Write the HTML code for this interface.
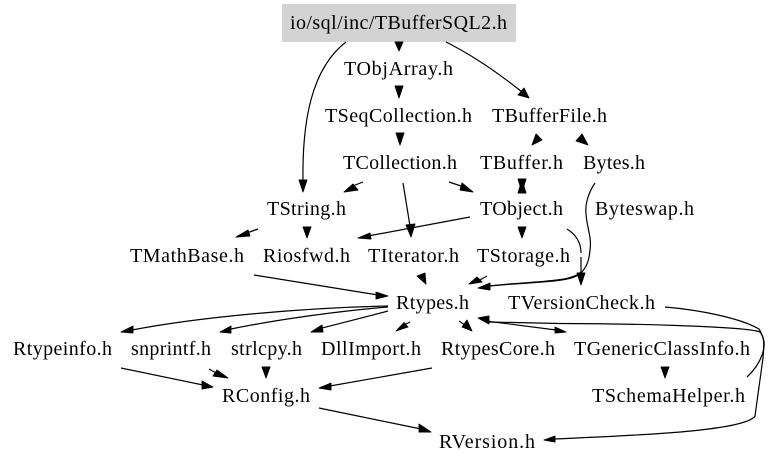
<!DOCTYPE html>
<html><head><meta charset="utf-8"><style>
html,body{margin:0;padding:0;background:#fff}
svg{display:block}
text{font-family:"Liberation Serif",serif;font-size:20px;fill:#000}
path{fill:none;stroke:#000;stroke-width:1.2}
polygon{fill:#000;stroke:#000;stroke-width:.9;stroke-linejoin:round}
</style></head><body>
<svg width="768" height="467" viewBox="0 0 768 467" xmlns="http://www.w3.org/2000/svg">
<rect width="768" height="467" fill="#fff"/>
<rect x="282" y="4" width="234" height="38" fill="#d3d3d3"/>
<text x="290" y="29" textLength="217">io/sql/inc/TBufferSQL2.h</text>
<text x="344" y="75" textLength="109">TObjArray.h</text>
<text x="325" y="122" textLength="147">TSeqCollection.h</text>
<text x="492" y="122" textLength="115">TBufferFile.h</text>
<text x="343" y="169" textLength="114">TCollection.h</text>
<text x="480" y="169" textLength="83">TBuffer.h</text>
<text x="583" y="169" textLength="62">Bytes.h</text>
<text x="267" y="215" textLength="79">TString.h</text>
<text x="480" y="215" textLength="83">TObject.h</text>
<text x="595" y="215" textLength="99">Byteswap.h</text>
<text x="130" y="262" textLength="114">TMathBase.h</text>
<text x="263" y="262" textLength="87">Riosfwd.h</text>
<text x="368" y="262" textLength="91">TIterator.h</text>
<text x="477" y="262" textLength="93">TStorage.h</text>
<text x="396" y="309" textLength="73">Rtypes.h</text>
<text x="508" y="309" textLength="147">TVersionCheck.h</text>
<text x="13" y="355" textLength="99">Rtypeinfo.h</text>
<text x="131" y="355" textLength="80">snprintf.h</text>
<text x="231" y="355" textLength="71">strlcpy.h</text>
<text x="321" y="355" textLength="100">DllImport.h</text>
<text x="441" y="355" textLength="114">RtypesCore.h</text>
<text x="574" y="355" textLength="176">TGenericClassInfo.h</text>
<text x="222" y="402" textLength="88">RConfig.h</text>
<text x="592" y="402" textLength="153">TSchemaHelper.h</text>
<text x="439" y="448" textLength="96">RVersion.h</text>

<!-- edges -->
<path d="M346,42 C312,68 302,120 303,181"/>
<path d="M446,42 C470,54 497,72 522,92"/>
<path d="M363,182 L350,187"/>
<path d="M449,182 L464,187"/>
<path d="M403,183 L410,226"/>
<path d="M470,217 L368,236"/>
<path d="M258,229 L244,234"/>
<path d="M567,229 C575,234 581,241 581,253"/>
<path d="M581,257 L581,274"/>
<path d="M581,272 C570,283 530,281 489,286"/>
<path d="M595,183 C588,193 585,205 586,214 C587,228 592,238 590,250 C589,262 586,268 580,274 C568,283 530,282 489,286"/>
<path d="M487,276 L478,281"/>
<path d="M254,275 L378,295"/>
<path d="M388,306 C300,308 200,317 132,330"/>
<path d="M388,307 C340,311 280,319 231,329"/>
<path d="M388,311 C370,316 345,322 322,328"/>
<path d="M410,322 L404,325"/>
<path d="M459,321 L465,325"/>
<path d="M486,321 L556,330"/>
<path d="M747,377 C760,365 770,345 760,332 C745,326 620,323.500 560,323.500 L489,322"/>
<path d="M665,307 C700,310 740,318 759,329 C765,338 764,345 763,358 L755,416 C745,432 620,436 554,439"/>
<path d="M121,368 L203,385"/>
<path d="M209,369 L218,374"/>
<path d="M432,368 L330,386"/>
<path d="M319,408 L421,429"/>

<!-- arrowheads -->
<polygon points="395,42 403,42 399,51"/>
<polygon points="395,86 403,86 399,98"/>
<polygon points="396,133 404,133 400,145"/>
<polygon points="299,180 307,180 303,192"/>
<polygon points="529,98 524,88 518,95"/>
<polygon points="532,145 536,134 542,140"/>
<polygon points="588,145 582,134 576,141"/>
<polygon points="344,192 353,184 358,190"/>
<polygon points="473,192 462,183 460,190"/>
<polygon points="411,237 406,225 415,224"/>
<polygon points="358,238 370,233 371,239"/>
<polygon points="236,237 248,230 250,236"/>
<polygon points="303,227 311,227 307,238"/>
<polygon points="518,227 526,227 522,238"/>
<polygon points="518,179 526,179 522,192"/>
<polygon points="518,193 526,193 522,180"/>
<polygon points="577,273 585,273 581,285"/>
<polygon points="478,288 490,283 490,290"/>
<polygon points="469,284 477,277 482,282"/>
<polygon points="426,284 417,276 425,273"/>
<polygon points="388,296 376,292 376,299"/>
<polygon points="121,332 133,326 133,333"/>
<polygon points="220,332 231,326 231,333"/>
<polygon points="311,332 322,325 323,332"/>
<polygon points="396,331 404,322.500 408,327"/>
<polygon points="472,331 462,327 467,320"/>
<polygon points="566,332 555,327 555,333"/>
<polygon points="478,318 489,316 489,324"/>
<polygon points="544,440 555,436 555,442"/>
<polygon points="661,367 669,367 665,378"/>
<polygon points="213,387 202,381 202,389"/>
<polygon points="228,378 217,370 213,376"/>
<polygon points="262,367 270,367 266,378"/>
<polygon points="319,388 331,383 331,390"/>
<polygon points="431,432 419,424 419,432"/>
</svg>
</body></html>
